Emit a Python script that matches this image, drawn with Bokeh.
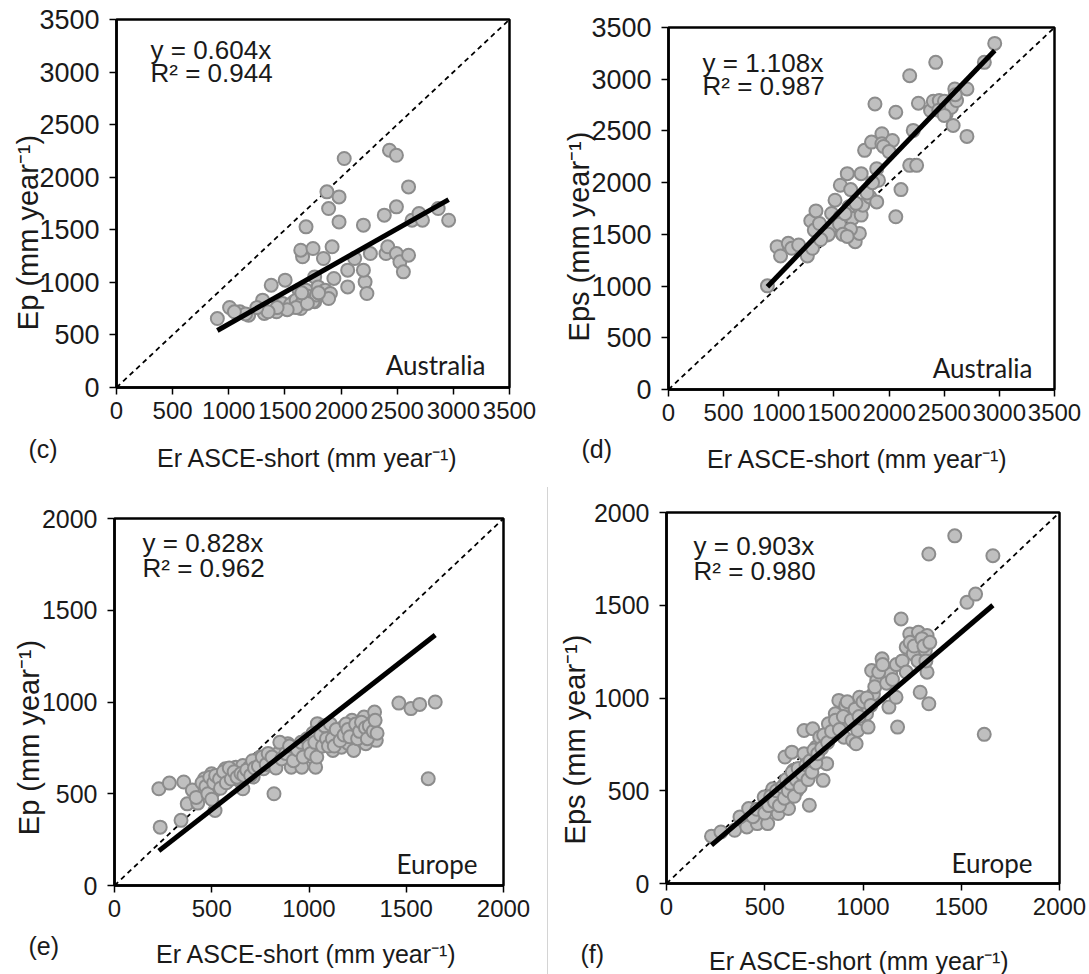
import math
from bokeh.plotting import figure
from bokeh.models import Label, Range1d, FixedTicker, Div
from bokeh.layouts import row, column
from bokeh.embed import file_html
from bokeh.resources import INLINE

# ---- Australia: Ep vs Er (panel c) ----
aus_ep_x = [898, 1007, 1099, 1177, 1301, 1316, 1378, 1425, 1502, 1487, 1533, 1579, 1626, 1626,
            1641, 1688, 1657, 1641, 1688, 1750, 1765, 1765, 1796, 1843, 1858, 1874, 1889, 1920,
            1905, 1936, 1889, 1982, 1982, 2028, 2059, 2059, 2121, 2199, 2214, 2230, 2261, 2199,
            2385, 2400, 2416, 2431, 2493, 2493, 2493, 2524, 2555, 2601, 2601, 2632, 2694, 2725,
            2865, 2958, 1480, 1550, 1600, 1650, 1700, 1750, 1780, 1600, 1520, 1430, 1350, 1250,
            1150, 1050, 1700, 1800, 1650]
aus_ep_y = [656, 761, 720, 688, 831, 704, 973, 720, 1021, 783, 751, 815, 926, 846,
            751, 926, 1243, 1306, 1528, 1322, 1052, 815, 957, 1227, 926, 1861, 1702, 1338,
            894, 1037, 846, 1813, 1575, 2178, 957, 1116, 1227, 1544, 1005, 894, 1274, 1116,
            1639, 1274, 1338, 2257, 2209, 1718, 1274, 1195, 1100, 1908, 1258, 1591, 1655, 1591,
            1702, 1591, 800, 790, 830, 800, 870, 820, 880, 760, 740, 760, 720, 760,
            700, 720, 800, 900, 900]

# ---- Australia: Eps vs Er (panel d) ----
aus_eps_x = [897, 985, 1016, 1086, 1117, 1180, 1259, 1290, 1322, 1337, 1306, 1369, 1432, 1479,
             1495, 1510, 1558, 1558, 1573, 1621, 1636, 1668, 1652, 1684, 1693, 1731, 1747, 1747,
             1762, 1778, 1825, 1841, 1872, 1888, 1888, 1904, 1935, 1935, 1983, 2030, 2061, 2061,
             2108, 2187, 2187, 2219, 2250, 2266, 2376, 2401, 2423, 2455, 2502, 2518, 2565, 2581,
             2596, 2612, 2706, 2706, 2864, 2958, 1550, 1600, 1650, 1700, 1580, 1620, 1450, 1380,
             1800, 1850, 1950, 2000, 2450, 2500, 2600]
aus_eps_y = [1002, 1381, 1291, 1413, 1365, 1397, 1291, 1631, 1541, 1727, 1365, 1605, 1493, 1702,
             1573, 1830, 1975, 1670, 1509, 2087, 1766, 1654, 1933, 1509, 1429, 1509, 2087, 1686,
             1782, 2312, 1862, 2392, 2761, 2135, 1814, 2023, 2473, 2376, 2344, 2408, 2681, 1670,
             1933, 3034, 2167, 2505, 2167, 2768, 2697, 2787, 3163, 2794, 2787, 2665, 2729, 2553,
             2906, 2794, 2447, 2906, 3163, 3346, 1600, 1700, 1550, 1800, 1500, 1480, 1500, 1450,
             1900, 2000, 2350, 2300, 2700, 2650, 2850]

# ---- Europe: Ep vs Er (panel e) ----
eur_ep_x = [228, 282, 356, 235, 342, 374, 428, 446, 463, 499, 508, 517, 526, 553, 570, 588, 606,
            624, 642, 660, 660, 695, 713, 731, 749, 766, 802, 820, 838, 873, 891, 909, 927, 945,
            963, 980, 1016, 1034, 1043, 1052, 1078, 1105, 1123, 1150, 1167, 1176, 1203, 1221,
            1230, 1248, 1275, 1283, 1292, 1319, 1328, 1337, 1346, 1462, 1524, 1569, 1649, 1613,
            400, 420, 450, 470, 480, 490, 500, 510, 520, 540, 545, 560, 575, 590, 600, 615, 630,
            650, 665, 680, 700, 710, 720, 740, 760, 780, 790, 810, 830, 850, 860, 880, 900, 920,
            940, 960, 970, 990, 1000, 1010, 1020, 1030, 1040, 1060, 1070, 1080, 1090, 1100, 1110,
            1120, 1130, 1140, 1160, 1180, 1190, 1200, 1210, 1240, 1250, 1260, 1270, 1290, 1300,
            1310, 1330, 1340, 1350]
eur_ep_y = [527, 558, 564, 318, 355, 445, 449, 518, 582, 609, 509, 409, 564, 609, 636, 600, 609,
            645, 573, 527, 654, 645, 591, 682, 700, 636, 682, 500, 718, 700, 773, 645, 754, 700,
            645, 773, 700, 645, 882, 754, 800, 845, 736, 827, 754, 863, 773, 900, 736, 854, 791,
            918, 773, 827, 891, 945, 791, 994, 964, 987, 1000, 582,
            520, 480, 560, 540, 500, 590, 470, 560, 600, 580, 530, 620, 560, 640, 580, 620, 590,
            610, 600, 630, 600, 680, 640, 650, 700, 660, 720, 700, 640, 780, 690, 720, 760, 680,
            740, 780, 700, 800, 760, 720, 830, 780, 700, 820, 760, 870, 800, 760, 880,
            800, 760, 850, 790, 820, 880, 850, 810, 880, 800, 840, 890, 860, 800,
            870, 840, 900, 830]

# ---- Europe: Eps vs Er (panel f) ----
eur_eps_x = [229, 277, 347, 409, 374, 418, 462, 480, 497, 515, 541, 568, 586, 603, 621, 603, 638,
             647, 665, 691, 700, 700, 727, 744, 736, 762, 780, 797, 815, 824, 859, 877, 903, 912,
             929, 947, 965, 973, 982, 1018, 1026, 1044, 1053, 1070, 1097, 1115, 1141, 1132, 1168,
             1176, 1194, 1220, 1238, 1256, 1282, 1291, 1317, 1326, 1326, 1335, 1335, 1467, 1529,
             1573, 1661, 1617,
             440, 460, 500, 520, 530, 550, 560, 575, 590, 600, 610, 620, 630, 640, 650, 660, 670,
             680, 690, 710, 720, 730, 740, 750, 760, 770, 790, 800, 820, 840, 860, 880, 900, 920,
             940, 960, 980, 1000, 1020, 1040, 1060, 1080, 1100, 1120, 1150, 1170, 1200, 1220,
             1240, 1260, 1280, 1300, 1310, 1320, 1340]
eur_eps_y = [255, 278, 287, 305, 359, 404, 323, 404, 466, 323, 511, 377, 475, 538, 404, 682, 708,
             610, 502, 556, 700, 825, 422, 834, 610, 735, 789, 556, 646, 861, 915, 987, 789, 960,
             861, 771, 753, 825, 1004, 915, 843, 1148, 1022, 1094, 1211, 1139, 1130, 951, 1004,
             843, 1426, 1274, 1345, 1238, 1354, 1031, 1256, 1337, 1139, 969, 1776, 1874, 1516,
             1560, 1767, 804,
             360, 400, 380, 420, 470, 440, 500, 420, 520, 460, 560, 500, 540, 600, 470, 560, 620,
             520, 590, 640, 560, 660, 600, 720, 650, 700, 730, 800, 760, 820, 880, 830, 900, 980,
             880, 940, 900, 980, 1000, 960, 1060, 1140, 1180, 1080, 1100, 1180, 1200, 1140,
             1300, 1280, 1200, 1320, 1280, 1200, 1300]

SLOPES = {"c": 0.604, "d": 1.108, "e": 0.828, "f": 0.903}
R2 = {"c": 0.944, "d": 0.987, "e": 0.962, "f": 0.980}

AXIS_FONT = "Liberation Sans"
REGION_FONT = "Lato"
INK = "#1a1a1a"
XTITLE = "Er ASCE-short (mm year\u207b\u00b9)"


def panel(tag, xs, ys, lim, step, ytitle, region, size, box, txt, ytick_px):
    """One scatter panel. The canvas is the whole panel; the axes sit at 0 on each scale,
    so the titles around the square plot box can be placed freely."""
    W, H = size
    bl, bt, br, bb = box            # plot box edges in canvas pixels (left, top, right, bottom)
    ux = lim / (br - bl)            # data units per pixel
    uy = lim / (bb - bt)
    x_range = Range1d(-bl * ux, lim + (W - br) * ux)
    y_range = Range1d(-(H - bb) * uy, lim + bt * uy)

    p = figure(width=W, height=H, x_range=x_range, y_range=y_range,
               min_border_left=0, min_border_right=0, min_border_top=0, min_border_bottom=0,
               output_backend="svg", toolbar_location=None,
               background_fill_color="white", border_fill_color="white")
    p.outline_line_color = None
    p.grid.visible = False
    ticks = list(range(0, lim + 1, step))
    for ax in (p.xaxis[0], p.yaxis[0]):
        ax.fixed_location = 0
        ax.bounds = (0, lim)
        ax.ticker = FixedTicker(ticks=ticks)
        ax.minor_tick_line_color = None
        ax.major_tick_in = 0
        ax.major_tick_out = 7
        ax.major_tick_line_width = 1.5
        ax.major_tick_line_color = "black"
        ax.axis_line_color = "black"
        ax.axis_line_width = 2.5
        ax.major_label_text_font = AXIS_FONT
        ax.major_label_text_color = INK
    p.xaxis[0].major_label_text_font_size = "24px"
    p.yaxis[0].major_label_text_font_size = ytick_px
    p.yaxis[0].major_label_standoff = 10
    p.xaxis[0].major_label_standoff = 7

    # square plot box
    p.quad(left=[0], right=[lim], bottom=[0], top=[lim], fill_color=None,
           line_color="black", line_width=2.5)
    # 1:1 reference line
    p.line([0, lim], [0, lim], line_color="black", line_width=1.8, line_dash="5 4")
    # observations
    p.scatter(xs, ys, size=13, fill_color="#BFBFBF", line_color="#8C8C8C", line_width=2)
    # regression through origin, over the observed range
    k = SLOPES[tag]
    x0, x1 = min(xs), max(xs)
    p.line([x0, x1], [k * x0, k * x1], line_color="black", line_width=5)

    def lab(px, py, text, align="left", font=AXIS_FONT, fsize="25px", angle=0.0):
        # px, py: canvas pixels from the top-left corner
        p.add_layout(Label(x=px, y=H - py, x_units="screen", y_units="screen", text=text,
                           text_align=align, text_baseline="middle", angle=angle,
                           text_font=font, text_font_size=fsize, text_color=INK))

    eq, r2, reg, tg, xt, yt = txt
    lab(eq[0], eq[1], f"y = {k:.3f}x", fsize="26px")
    lab(r2[0], r2[1], f"R\u00b2 = {R2[tag]:.3f}", fsize="26px")
    lab(reg[0], reg[1], region, align="right", font=REGION_FONT, fsize="26px")
    lab(tg[0], tg[1], f"({tag})", fsize="25px")
    lab(xt[0], xt[1], XTITLE, align="center", fsize="25px")
    lab(yt[0], yt[1], ytitle, align="center", angle=math.pi / 2, fsize="29px")
    return p


pc = panel("c", aus_ep_x, aus_ep_y, 3500, 500, "Ep (mm year\u207b\u00b9)", "Australia",
           (545, 480), (116, 19, 509, 387),
           ((150, 49), (150, 72), (485, 364), (28, 448), (307, 457), (27, 232)), "27px")
pd_ = panel("d", aus_eps_x, aus_eps_y, 3500, 500, "Eps (mm year\u207b\u00b9)", "Australia",
            (544, 480), (123, 27, 509, 389),
            ((157, 62), (157, 85), (487, 367), (36, 448), (312, 458), (33, 236)), "27px")
pe = panel("e", eur_ep_x, eur_ep_y, 2000, 500, "Ep  (mm year\u207b\u00b9)", "Europe",
           (547, 494), (114, 38, 503, 405),
           ((142, 62), (142, 87), (477, 383), (28, 465), (306, 473), (28, 253)), "25px")
pf = panel("f", eur_eps_x, eur_eps_y, 2000, 500, "Eps  (mm year\u207b\u00b9)", "Europe",
           (541, 494), (118, 32, 511, 403),
           ((145, 65), (145, 90), (484, 382), (32, 473), (311, 480), (26, 255)), "25px")

sep = Div(text="", width=1, height=487, margin=(7, 0, 0, 0),
          styles={"background-color": "#d4d4d4"})

layout = column(row(pc, pd_), row(pe, sep, pf))
open("out.html", "w").write(file_html(layout, INLINE))
